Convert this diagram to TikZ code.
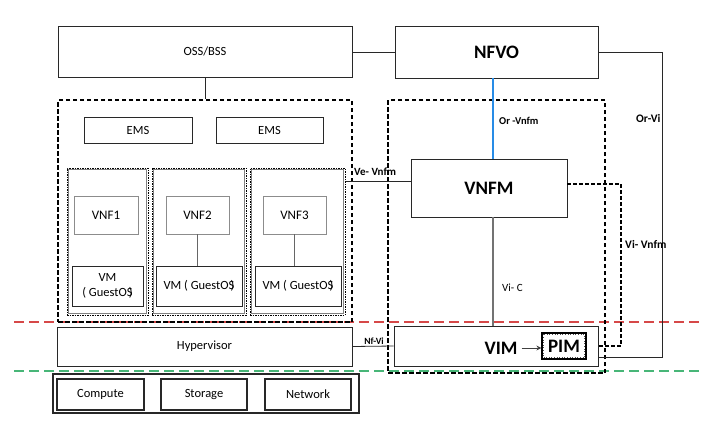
\documentclass[tikz,border=0pt]{standalone}
\usepackage{fontspec}
\setmainfont{Carlito}
\usetikzlibrary{arrows.meta,calc}
\definecolor{lblue}{RGB}{40,140,230}
\definecolor{lred}{RGB}{214,72,72}
\definecolor{lgreen}{RGB}{72,182,120}
\definecolor{edge}{RGB}{40,40,40}
\tikzset{
  box/.style={draw=edge,line width=0.9pt,rectangle,inner sep=0pt,font=\fontsize{12.5}{14}\selectfont},
  graybox/.style={draw=black!45,line width=0.9pt,rectangle,inner sep=0pt,font=\fontsize{13}{15}\selectfont},
  bigbox/.style={box,font=\fontsize{19}{22}\selectfont\bfseries},
  dashbox/.style={draw=black,line width=2pt,dash pattern=on 4.5pt off 2.5pt,rectangle,inner sep=0pt},
  dotbox/.style={draw=black,line width=1pt,dash pattern=on 1.5pt off 1pt,rectangle,inner sep=0pt},
  conn/.style={draw=edge,line width=0.8pt},
  lbl/.style={inner sep=0pt,font=\fontsize{10.5}{12}\selectfont\bfseries},
  sepline/.style={line width=1.6pt,dash pattern=on 10pt off 5pt}
}
\begin{document}
\begin{tikzpicture}[x=1pt,y=-1pt]
\useasboundingbox[fill=white] (0,0) rectangle (720,442);

% separator lines
\coordinate (redL) at (14,322);
\coordinate (redR) at (702,322);
\coordinate (grnL) at (14,371);
\coordinate (grnR) at (702,371);
\draw[sepline,lred] (redL) -- (redR);
\draw[sepline,lgreen] (grnL) -- (grnR);

% top boxes
\node[box,minimum width=294pt,minimum height=51pt] (oss) at (205,51.5) {OSS/BSS};
\node[bigbox,minimum width=203pt,minimum height=52pt] (nfvo) at (496.5,52) {NFVO};

% left dashed area
\node[dashbox,minimum width=294pt,minimum height=222pt] (left) at (205,211) {};
\node[box,minimum width=108pt,minimum height=26pt] (ems1) at (138,130) {EMS};
\node[box,minimum width=107pt,minimum height=26pt] (ems2) at (269.5,130) {EMS};

% VNF containers
\node[dotbox,minimum width=81pt,minimum height=147pt] (c1) at (107.5,241.5) {};
\node[dotbox,minimum width=94pt,minimum height=147pt] (c2) at (199,241.5) {};
\node[dotbox,minimum width=95pt,minimum height=147pt] (c3) at (297.5,241.5) {};
\draw[black!50,line width=0.4pt] ($(c1.north west)+(2,2)$) rectangle ($(c1.south east)+(-2,-2)$);
\draw[black!50,line width=0.4pt] ($(c2.north west)+(2,2)$) rectangle ($(c2.south east)+(-2,-2)$);
\draw[black!50,line width=0.4pt] ($(c3.north west)+(2,2)$) rectangle ($(c3.south east)+(-2,-2)$);

\node[graybox,minimum width=64pt,minimum height=38pt] (vnf1) at (106,215) {VNF1};
\node[graybox,minimum width=63pt,minimum height=38pt] (vnf2) at (197.5,215) {VNF2};
\node[graybox,minimum width=63pt,minimum height=38pt] (vnf3) at (294.5,215) {VNF3};

\node[box,minimum width=71pt,minimum height=40pt,align=center,font=\fontsize{12.5}{15}\selectfont] (vm1) at (107.5,286) {VM\\( GuestOS\kern-0.3em)};
\node[box,minimum width=86pt,minimum height=40pt] (vm2) at (199,286) {VM ( GuestOS\kern-0.3em)};
\node[box,minimum width=86pt,minimum height=40pt] (vm3) at (298,286) {VM ( GuestOS\kern-0.3em)};

\draw[black!60,line width=0.9pt] ($(vnf1.south)+(-3,0)$) -- ($(vnf1.south)+(-3,0)$ |- vm1.north);
\draw[black!60,line width=0.9pt] (vnf2.south) -- (vnf2.south |- vm2.north);
\draw[black!60,line width=0.9pt] (vnf3.south) -- (vnf3.south |- vm3.north);

% hypervisor and hardware
\node[box,minimum width=295pt,minimum height=39pt] (hyp) at (204.5,346.5) {Hypervisor};
\node[box,line width=1.1pt,minimum width=306pt,minimum height=39pt] (hw) at (206,393.5) {};
\node[box,line width=1.1pt,minimum width=87pt,minimum height=31pt] (comp) at (100.5,394.5) {Compute};
\node[box,line width=1.1pt,minimum width=86pt,minimum height=31pt] (stor) at (204,394.5) {Storage};
\node[box,line width=1.1pt,minimum width=86pt,minimum height=31pt] (net) at (308,394.5) {Network};

% right dashed area
\node[dashbox,minimum width=217pt,minimum height=273pt] (right) at (496.5,236.5) {};
\node[bigbox,minimum width=156pt,minimum height=58pt] (vnfm) at (489,188) {VNFM};
\node[box,minimum width=204pt,minimum height=40pt] (vim) at (496,346) {};
\node[inner sep=0pt,font=\fontsize{19}{22}\selectfont\bfseries] (vimt) at (501,348) {VIM};
\node[draw=black,line width=1.2pt,minimum width=44pt,minimum height=26pt,inner sep=0pt,font=\fontsize{19}{22}\selectfont\bfseries] (pim) at (564,346) {PIM};
\draw[black!70,line width=0.6pt,dotted] ($(pim.north west)+(2,2)$) rectangle ($(pim.south east)+(-2,-2)$);
\draw[-{Stealth[length=5pt,width=5pt]},black!75,line width=0.9pt] (vimt.east) ++(4,0) coordinate (arrS) (arrS) -- (pim.west |- arrS);

% connectors
\coordinate (orx) at (493,0);
\draw[conn] (oss.east |- nfvo.west) -- (nfvo.west);
\draw[conn] (oss.south) -- (oss.south |- left.north);
\draw[lblue,line width=1.3pt] (nfvo.south -| orx) -- (vnfm.north -| orx);
\draw[black!55,line width=1.2pt] (vnfm.south -| orx) -- (vim.north -| orx);
\draw[conn] (c3.east |- 0,181) coordinate (veS) -- (vnfm.west |- veS);
\draw[conn] (hyp.east) -- (vim.west);
\coordinate (orvi1) at (662,52);
\coordinate (orvi2) at (662,357);
\draw[conn,line width=1pt] (nfvo.east |- orvi1) -- (orvi1) -- (orvi2) -- (vim.east |- orvi2);
\coordinate (vv1) at (621,184);
\coordinate (vv2) at (621,346);
\draw[draw=black,line width=1.6pt,dash pattern=on 4pt off 2pt] (vnfm.east |- vv1) -- (vv1) -- (vv2) -- (vim.east |- vv2);

% labels
\node[lbl,anchor=west] (lorvnfm) at (499,121) {Or -Vnfm};
\node[lbl,anchor=west,font=\fontsize{11.5}{13}\selectfont\bfseries] (lorvi) at (636,119) {Or-Vi};
\node[lbl,anchor=west,font=\fontsize{11.5}{13}\selectfont\bfseries] (lvivnfm) at (625,244) {Vi- Vnfm};
\node[lbl,anchor=west,font=\fontsize{11}{13}\selectfont] (lvic) at (502,288) {Vi- C};
\node[lbl,anchor=west,font=\fontsize{11}{13}\selectfont\bfseries] (lvevnfm) at (354,172) {Ve- Vnfm};
\node[lbl,font=\fontsize{9.5}{11}\selectfont\bfseries] (lnfvi) at (374,341) {Nf-Vi};
\end{tikzpicture}
\end{document}
